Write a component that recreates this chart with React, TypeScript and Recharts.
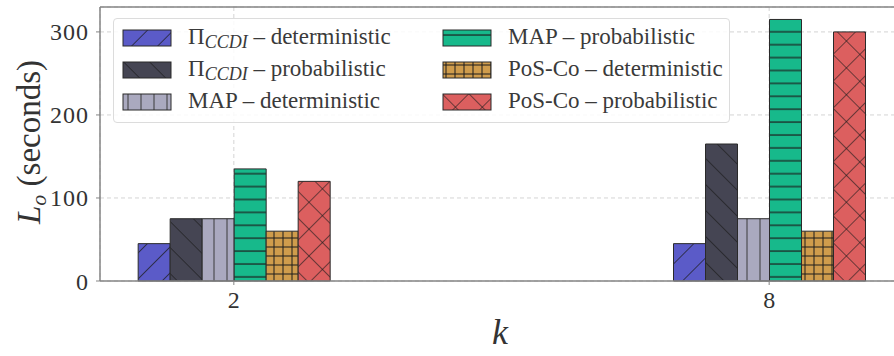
import React from "react"
import { BarChart, Bar, XAxis, YAxis, CartesianGrid, ReferenceLine } from "recharts"

// k values on the x axis and L_o (seconds) per method
const kValues = [2, 8]
const ccdiDet = [45, 45]
const ccdiProb = [75, 165]
const mapDet = [75, 75]
const mapProb = [135, 315]
const posDet = [60, 60]
const posProb = [120, 300]

const yTicks = [0, 100, 200, 300]

const data = kValues.map((k, i) => ({
  k,
  ccdiDet: ccdiDet[i],
  ccdiProb: ccdiProb[i],
  mapDet: mapDet[i],
  mapProb: mapProb[i],
  posDet: posDet[i],
  posProb: posProb[i],
}))

type Series = { key: string; method: string; mode: string; sub?: string }

const SERIES: Series[] = [
  { key: "ccdiDet", method: "Π", sub: "CCDI", mode: "deterministic" },
  { key: "ccdiProb", method: "Π", sub: "CCDI", mode: "probabilistic" },
  { key: "mapDet", method: "MAP", mode: "deterministic" },
  { key: "mapProb", method: "MAP", mode: "probabilistic" },
  { key: "posDet", method: "PoS-Co", mode: "deterministic" },
  { key: "posProb", method: "PoS-Co", mode: "probabilistic" },
]

const FONT = "'Liberation Serif', 'DejaVu Serif', serif"
const HATCH = "#1c1c1c"
const EDGE = "#2a2a2a"
const SPINE = "#858585"

function HatchDefs() {
  return (
    <svg width={0} height={0} style={{ position: "absolute" }}>
      <defs>
        <pattern id="h-ccdiDet" width={18.4} height={18.4} patternUnits="userSpaceOnUse" patternTransform="rotate(45)">
          <rect width={18.4} height={18.4} fill="#5b5bc8" />
          <line x1={0} y1={0} x2={0} y2={18.4} stroke={HATCH} strokeWidth={1.4} />
        </pattern>
        <pattern id="h-ccdiProb" width={18.4} height={18.4} patternUnits="userSpaceOnUse" patternTransform="rotate(-45)">
          <rect width={18.4} height={18.4} fill="#454553" />
          <line x1={0} y1={0} x2={0} y2={18.4} stroke={HATCH} strokeWidth={1.3} />
        </pattern>
        <pattern id="h-mapDet" width={13} height={13} patternUnits="userSpaceOnUse">
          <rect width={13} height={13} fill="#aaa9bf" />
          <line x1={6} y1={0} x2={6} y2={13} stroke="#3a3a3a" strokeWidth={1} />
        </pattern>
        <pattern id="h-mapProb" width={13} height={12.9} patternUnits="userSpaceOnUse">
          <rect width={13} height={12.9} fill="#17b98b" />
          <line x1={0} y1={6} x2={13} y2={6} stroke={HATCH} strokeWidth={1.2} />
        </pattern>
        <pattern id="h-posDet" width={9} height={9} patternUnits="userSpaceOnUse">
          <rect width={9} height={9} fill="#cf9c4c" />
          <line x1={4} y1={0} x2={4} y2={9} stroke={HATCH} strokeWidth={1} />
          <line x1={0} y1={4} x2={9} y2={4} stroke={HATCH} strokeWidth={1} />
        </pattern>
        <pattern id="h-posProb" width={19} height={19} patternUnits="userSpaceOnUse" patternTransform="rotate(45)">
          <rect width={19} height={19} fill="#dc5f5f" />
          <line x1={0} y1={0} x2={0} y2={19} stroke={HATCH} strokeWidth={1.2} />
          <line x1={0} y1={0} x2={19} y2={0} stroke={HATCH} strokeWidth={1.2} />
        </pattern>
      </defs>
    </svg>
  )
}

function HatchLegend() {
  return (
    <div
      style={{
        position: "absolute",
        left: 113,
        top: 18,
        width: 617,
        height: 105,
        boxSizing: "border-box",
        border: "1px solid #dcdcdc",
        borderRadius: 4,
        background: "rgba(255,255,255,0.85)",
        fontFamily: FONT,
        fontSize: 23,
        color: "#3a3a3a",
      }}
    >
      {SERIES.map((s, i) => {
        const col = Math.floor(i / 3)
        const row = i % 3
        const left = 9 + col * 320
        const cy = 19 + row * 32
        return (
          <div key={s.key}>
            <svg width={50} height={18} style={{ position: "absolute", left: left - 1, top: cy - 9 }}>
              <rect x={1} y={1} width={48} height={16} fill={`url(#h-${s.key})`} stroke={EDGE} strokeWidth={1} />
            </svg>
            <div style={{ position: "absolute", left: left + 65, top: cy - 14, whiteSpace: "nowrap", lineHeight: "26px" }}>
              {s.method}
              {s.sub && <span style={{ fontStyle: "italic", fontSize: 18, position: "relative", top: 4 }}>{s.sub}</span>}
              {" – "}
              {s.mode}
            </div>
          </div>
        )
      })}
    </div>
  )
}

function YLabel() {
  return (
    <text x={0} y={0} transform="translate(40,142) rotate(-90)" textAnchor="middle" fontFamily={FONT} fontSize={33} fill="#333">
      <tspan fontStyle="italic">L</tspan>
      <tspan fontStyle="italic" fontSize={22} dy={6}>o</tspan>
      <tspan dy={-6}> (seconds)</tspan>
    </text>
  )
}

function XLabel() {
  return (
    <text x={500} y={344} textAnchor="middle" fontFamily={FONT} fontStyle="italic" fontSize={36} fill="#333">
      k
    </text>
  )
}

export default function App() {
  return (
    <div style={{ position: "absolute", left: 0, top: 0, width: 894, height: 356, overflow: "hidden", background: "#fff" }}>
      <HatchDefs />
      <BarChart
        width={910}
        height={356}
        data={data}
        margin={{ top: 7, right: 7, bottom: 45, left: 40 }}
        barGap={0}
        barSize={32}
      >
        <CartesianGrid stroke="#d4d4d4" strokeDasharray="4 3" />
        <XAxis
          dataKey="k"
          type="number"
          domain={[0.5, 9.5]}
          ticks={kValues}
          height={30}
          tickSize={4}
          tickMargin={6}
          axisLine={{ stroke: SPINE, strokeWidth: 1.5 }}
          tickLine={{ stroke: SPINE }}
          tick={{ fontFamily: FONT, fontSize: 24, fill: "#333" }}
          label={() => <XLabel />}
        />
        <YAxis
          domain={[0, 330]}
          ticks={yTicks}
          width={60}
          tickSize={4}
          tickMargin={7}
          axisLine={{ stroke: SPINE, strokeWidth: 1.5 }}
          tickLine={{ stroke: SPINE }}
          tick={{ fontFamily: FONT, fontSize: 24, fill: "#333", letterSpacing: 1 }}
          label={() => <YLabel />}
        />
        <ReferenceLine y={330} stroke={SPINE} strokeWidth={1.5} />
        {SERIES.map((s) => (
          <Bar
            key={s.key}
            dataKey={s.key}
            fill={`url(#h-${s.key})`}
            stroke={EDGE}
            strokeWidth={1}
            isAnimationActive={false}
          />
        ))}
      </BarChart>
      <HatchLegend />
    </div>
  )
}
